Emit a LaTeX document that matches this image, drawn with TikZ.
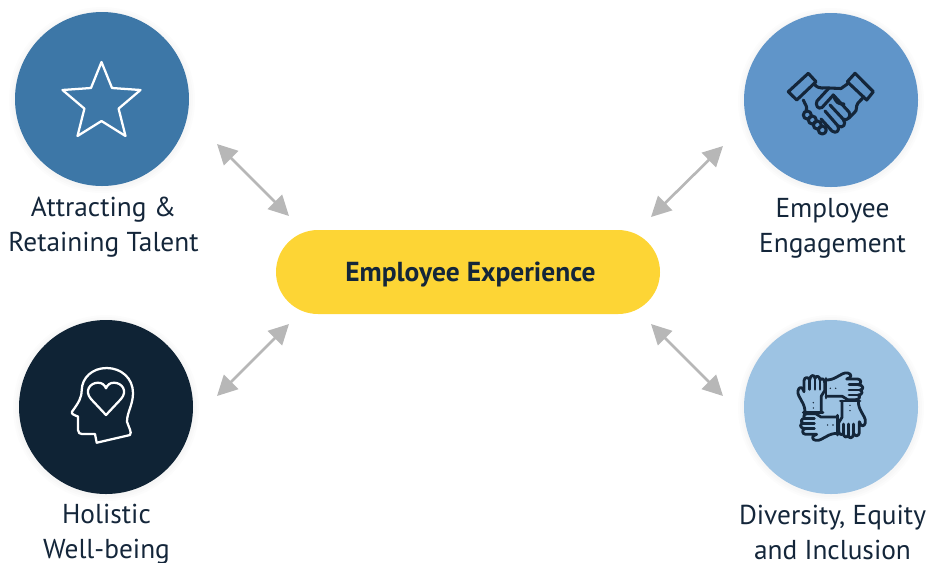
\documentclass[tikz,border=0pt]{standalone}
\usepackage{fontspec}
\setmainfont{PT Sans}
\usetikzlibrary{arrows.meta}
\definecolor{cStar}{HTML}{3D77A7}
\definecolor{cShake}{HTML}{6095C9}
\definecolor{cNavy}{HTML}{0F2335}
\definecolor{cPale}{HTML}{9DC3E3}
\definecolor{cGold}{HTML}{FDD535}
\definecolor{cInk}{HTML}{14263A}
\definecolor{cArrow}{HTML}{B7B7B7}
\newcommand{\softshadow}[2]{%
  \foreach \rr in {89,91,93}{\fill[black,opacity=.012] (#1,#2+1) circle[radius=\rr*.75pt];}}
\newcommand{\onehand}{%
  \draw (75,157) .. controls (75,145) and (72,135) .. (66,125)
    .. controls (60,112) and (52,105) .. (54,92)
    .. controls (56,80) and (68,78) .. (72,95)
    -- (72,62) .. controls (73,50) and (86,50) .. (89,60)
    .. controls (90,44) and (104,42) .. (105,55)
    .. controls (108,45) and (120,48) .. (120,60)
    .. controls (126,52) and (134,58) .. (134,68)
    -- (134,92) -- (124,108) -- (124,157);
  \draw (89,60) -- (89,88) (105,55) -- (105,88) (120,60) -- (120,88);
  \draw (70,157) -- (129,157);
  \fill (100,128) circle[radius=2.4] (100,144) circle[radius=2.4];
}
\tikzset{
  x=.75pt,y=-.75pt,
  badge/.style={circle,minimum size=130.5pt,inner sep=0pt},
  caption/.style={align=center,text=cInk,font=\fontsize{20.5}{26.25}\selectfont},
  pill/.style={rectangle,rounded corners=31.5pt,fill=cGold,minimum width=288pt,minimum height=63pt,inner sep=0pt},
  twoway/.style={draw=cArrow,line width=2pt,{Triangle[length=15pt,width=15pt]}-{Triangle[length=15pt,width=15pt]}},
  iconw/.style={draw=white,line width=1.7pt,line join=round,line cap=round},
}
\begin{document}
\begin{tikzpicture}
\useasboundingbox (0,0) rectangle (930,562);
\softshadow{102}{99}\softshadow{831}{100}\softshadow{106}{407}\softshadow{831}{407}
\node[badge,fill=cStar] (star) at (102,99) {};
\node[badge,fill=cShake] (shake) at (831,100) {};
\node[badge,fill=cNavy] (head) at (106,407) {};
\node[badge,fill=cPale] (hands) at (831,407) {};
\node[pill] (core) at (468,272) {};
\node[text=cInk,font=\fontsize{20.6}{24}\selectfont\bfseries] (coretext) at (470.5,274.5) {Employee Experience};
\node[caption] (l1) at (103.5,227.5) {Attracting \&\\Retaining Talent};
\node[caption] (l2) at (832.5,228.5) {Employee\\Engagement};
\node[caption] (l3) at (106.5,534) {Holistic\\Well-being};
\node[caption] (l4) at (832.5,532.5) {Diversity, Equity\\and Inclusion};
% connectors
\coordinate (a1) at (217,144); \coordinate (b1) at (289,216);
\coordinate (a2) at (723,146); \coordinate (b2) at (651,217);
\coordinate (a3) at (217,396); \coordinate (b3) at (289,324);
\coordinate (a4) at (723,396); \coordinate (b4) at (651,324);
\draw[twoway] (a1) -- (b1);
\draw[twoway] (a2) -- (b2);
\draw[twoway] (a3) -- (b3);
\draw[twoway] (a4) -- (b4);
% star icon
\draw[iconw] (101.5,62) -- (112,88) -- (140.5,90) -- (118.6,108.6) -- (125.5,136) -- (101.5,121)
  -- (77.5,136) -- (84.4,108.6) -- (62.5,90) -- (91,88) -- cycle;
% head icon
\draw[iconw] (96.7,442.7) -- (130,435) .. controls (132,432) and (129,428) .. (127,421.7)
  .. controls (127,412) and (133,405) .. (133,393)
  .. controls (133,378) and (121,368) .. (106.7,368)
  .. controls (92,368) and (82,378) .. (81.7,390)
  .. controls (81.5,398) and (79,402) .. (72,411.7)
  .. controls (71,414) and (74,415) .. (78,416.5)
  -- (78,430) .. controls (78,433) and (80,434) .. (82,434)
  -- (95,434) -- cycle;
\draw[iconw] (106,415) -- (91,399) .. controls (84,391) and (90,382.7) .. (98,382.7)
  .. controls (102,382.7) and (105,385) .. (106,388.3)
  .. controls (107,385) and (110,382.7) .. (114,382.7)
  .. controls (122,382.7) and (128,391) .. (121,399) -- cycle;
% handshake icon
\begin{scope}[draw=cInk,line width=2.3pt,line join=round,line cap=round]
\draw (808.3,73.3) -- (816,81.7) -- (796.7,100) -- (788.3,91.7) -- cycle;
\draw (855,73.3) -- (873.3,91.7) -- (866.7,100) -- (847.3,81.7) -- cycle;
\draw (815,85) .. controls (820,90) and (824,87) .. (829,88) -- (841,88.5) -- (848.3,83.3);
\draw (803.3,100) .. controls (805,105) and (808,106) .. (806,111);
\draw (864,96.7) -- (858,103) .. controls (855,107) and (858,110) .. (854,113) -- (849,118);
\draw (829,88) -- (817,101) .. controls (815,105) and (818,110) .. (822,107.5) -- (833.3,95) -- (849,112) .. controls (852,116) and (847,122) .. (843,119) -- (830,105);
\draw (843,119) .. controls (847,124) and (843,129) .. (838,126) -- (825,111);
\draw (838,126) .. controls (840,131) and (836,134) .. (832,131) -- (821,119);
\draw (833.3,95) .. controls (836,103) and (838,104) .. (844,104);
\draw[fill=cShake] (807.3,115) circle[radius=4] (812.3,120) circle[radius=4] (817.3,125) circle[radius=4] (822.3,130) circle[radius=4];
\end{scope}
% hands icon
\begin{scope}[x=.25pt,y=-.25pt,shift={(780*3,360*3)},draw=cInk,fill=cInk,line width=2.1pt,line join=round,line cap=round]
\onehand
\begin{scope}[rotate around={90:(155,140)}]\onehand\end{scope}
\begin{scope}[rotate around={180:(155,140)}]\onehand\end{scope}
\begin{scope}[rotate around={270:(155,140)}]\onehand\end{scope}
\end{scope}
\end{tikzpicture}
\end{document}
